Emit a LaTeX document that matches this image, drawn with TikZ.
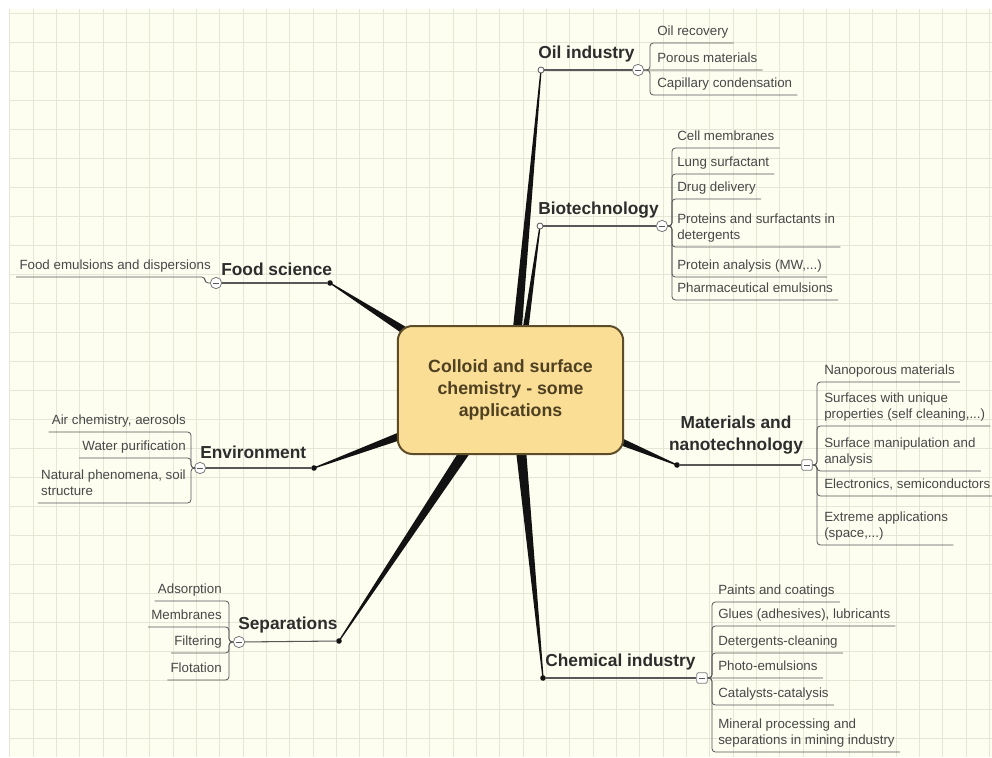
\documentclass[tikz,border=0pt]{standalone}
\usepackage{fontspec}
\setmainfont{Liberation Sans}
\usetikzlibrary{calc}
\definecolor{bgc}{RGB}{253,253,240}
\definecolor{gridc}{RGB}{228,231,214}
\definecolor{boxfill}{RGB}{250,222,150}
\definecolor{boxdraw}{RGB}{92,76,40}
\definecolor{boxtext}{RGB}{78,64,32}
\definecolor{labc}{RGB}{45,45,45}
\definecolor{itemc}{RGB}{72,72,72}
\definecolor{linec}{RGB}{88,88,88}
\definecolor{spokec}{RGB}{18,18,18}
\newcommand{\rchild}[7]{% name, toggle, cy, bx, textx, u, text
  \node[itemL] (#1) at (#5,#6-3.8) {#7};
  \draw[uline] (#2.east) -- (#4,#3) -- (#4,#6) -- ($(#1.south east)+(5,3.8)$);
}
\newcommand{\rchildflat}[5]{% name, toggle, textx, u, text
  \node[itemL] (#1) at (#3,#4-3.8) {#5};
  \draw[uline] (#2.east) -- ($(#1.south east)+(5,3.8)$);
}
\newcommand{\lchild}[7]{% name, toggle, cy, bx, textright, u, text
  \node[itemR] (#1) at (#5,#6-3.8) {#7};
  \draw[uline] (#2.west) -- (#4,#3) -- (#4,#6) -- ($(#1.south west)+(-3,3.8)$);
}
\newcommand{\spoke}[3]{% base, tip, half width
  \fill[spokec] ($(#1)!#3!90:(#2)$) -- ($(#2)!0.45pt!-90:(#1)$) -- ($(#2)!0.45pt!90:(#1)$) -- ($(#1)!#3!-90:(#2)$) -- cycle;
}
\begin{document}
\begin{tikzpicture}[x=0.75pt,y=-0.75pt,
  item/.style={inner sep=0pt, font=\fontsize{10}{12}\selectfont, text=itemc, text depth=2.4pt},
  itemL/.style={item, anchor=south west, align=left},
  itemR/.style={item, anchor=south east, align=right},
  lab/.style={inner sep=0pt, font=\bfseries\fontsize{13}{17}\selectfont, text=labc},
  uline/.style={draw=linec, line width=0.6pt, rounded corners=2.5pt},
  hline/.style={draw=linec, line width=0.8pt},
  minus/.style={path picture={\draw[linec, line width=0.6pt] ([xshift=1.8pt]path picture bounding box.west) -- ([xshift=-1.8pt]path picture bounding box.east);}},
  togc/.style={circle, draw=linec!80, fill=white, line width=0.6pt, minimum size=8.5pt, inner sep=0pt, minus},
  togs/.style={rectangle, rounded corners=1.5pt, draw=linec!80, fill=white, line width=0.6pt, minimum size=8pt, inner sep=0pt, minus},
  dotF/.style={circle, fill=spokec, minimum size=4.2pt, inner sep=0pt},
  dotH/.style={circle, draw=linec, fill=white, line width=0.6pt, minimum size=4.5pt, inner sep=0pt},
  cbox/.style={draw=boxdraw, line width=1.5pt, fill=boxfill, rounded corners=11pt, minimum width=169pt, minimum height=96pt, align=center, text=boxtext, font=\bfseries\fontsize{13.3}{16.5}\selectfont}
]
\useasboundingbox (0,0) rectangle (992,757);
\fill[white] (0,0) rectangle (992,757);
\fill[bgc] (9,9) rectangle (992,757);
\foreach \i in {0,...,42} \draw[gridc, line width=0.6pt] ({9.67+23.33*\i},9) -- ({9.67+23.33*\i},757);
\foreach \j in {0,...,25} \draw[gridc, line width=0.6pt] (9,{13+29*\j}) -- (992,{13+29*\j});

% spoke bases and tips
\coordinate (bOil) at (517,333);
\coordinate (bBio) at (525,333);
\coordinate (bFood) at (410,334);
\coordinate (bEnv) at (403,435);
\coordinate (bSep) at (466,450);
\coordinate (bChem) at (521,450);
\coordinate (bMat) at (617,440);
\coordinate (pOil) at (541,70);
\coordinate (pBio) at (540,226);
\coordinate (pFood) at (330,283);
\coordinate (pEnv) at (314,468);
\coordinate (pSep) at (339,641);
\coordinate (pChem) at (543,678);
\coordinate (pMat) at (677,465);

\spoke{bOil}{pOil}{3.4pt}
\spoke{bBio}{pBio}{2.2pt}
\spoke{bFood}{pFood}{3pt}
\spoke{bEnv}{pEnv}{3pt}
\spoke{bSep}{pSep}{3.8pt}
\spoke{bChem}{pChem}{3.8pt}
\spoke{bMat}{pMat}{2.8pt}

\node[cbox] (ctr) at (510.5,390) {Colloid and surface\\chemistry - some\\applications};

% branch dots
\node[dotH] (dOil) at (pOil) {};
\node[dotH] (dBio) at (pBio) {};
\node[dotF] (dFood) at (pFood) {};
\node[dotF] (dEnv) at (pEnv) {};
\node[dotF] (dSep) at (pSep) {};
\node[dotF] (dChem) at (pChem) {};
\node[dotF] (dMat) at (pMat) {};

% toggles
\node[togc] (tOil) at (638,70) {};
\node[togc] (tBio) at (662,226) {};
\node[togc] (tFood) at (216,283) {};
\node[togc] (tEnv) at (200,468) {};
\node[togc] (tSep) at (239,642) {};
\node[togs] (tMat) at (807,465) {};
\node[togs] (tChem) at (702,678) {};

\draw[hline] (dOil) -- (tOil);
\draw[hline] (dBio) -- (tBio);
\draw[hline] (dFood) -- (tFood);
\draw[hline] (dEnv) -- (tEnv);
\draw[hline] (dSep) -- (tSep);
\draw[hline] (dChem) -- (tChem);
\draw[hline] (dMat) -- (tMat);

% branch labels
\node[lab, anchor=base west] (lOil) at (538,58) {Oil industry};
\node[lab, anchor=base west] (lBio) at (538,214) {Biotechnology};
\node[lab, anchor=base west] (lFood) at (221,275) {Food science};
\node[lab, anchor=base west] (lEnv) at (200,458) {Environment};
\node[lab, anchor=base west] (lSep) at (238,629) {Separations};
\node[lab, anchor=base west] (lChem) at (545,666) {Chemical industry};
\node[lab, align=center] (lMat) at (736,435) {Materials and\\nanotechnology};

% Oil industry
\rchild{o1}{tOil}{70}{650}{657}{43}{Oil recovery}
\rchildflat{o2}{tOil}{657}{70}{Porous materials}
\rchild{o3}{tOil}{70}{650}{657}{95}{Capillary condensation}

% Biotechnology
\rchild{b1}{tBio}{226}{672}{677}{148}{Cell membranes}
\rchild{b2}{tBio}{226}{672}{677}{174}{Lung surfactant}
\rchild{b3}{tBio}{226}{672}{677}{199}{Drug delivery}
\rchild{b4}{tBio}{226}{672}{677}{247}{Proteins and surfactants in\\detergents}
\rchild{b5}{tBio}{226}{672}{677}{277}{Protein analysis (MW,...)}
\rchild{b6}{tBio}{226}{672}{677}{300}{Pharmaceutical emulsions}

% Materials
\rchild{m1}{tMat}{465}{817}{824}{382}{Nanoporous materials}
\rchild{m2}{tMat}{465}{817}{824}{426}{Surfaces with unique\\properties (self cleaning,...)}
\rchild{m3}{tMat}{465}{817}{824}{471}{Surface manipulation and\\analysis}
\rchild{m4}{tMat}{465}{817}{824}{496}{Electronics, semiconductors}
\rchild{m5}{tMat}{465}{817}{824}{545}{Extreme applications\\(space,...)}

% Chemical industry
\rchild{c1}{tChem}{678}{712}{718}{602}{Paints and coatings}
\rchild{c2}{tChem}{678}{712}{718}{626}{Glues (adhesives), lubricants}
\rchild{c3}{tChem}{678}{712}{718}{653}{Detergents-cleaning}
\rchildflat{c4}{tChem}{718}{678}{Photo-emulsions}
\rchild{c5}{tChem}{678}{712}{718}{705}{Catalysts-catalysis}
\rchild{c6}{tChem}{678}{712}{718}{752}{Mineral processing and\\separations in mining industry}

% Food science
\lchild{f1}{tFood}{283}{205}{211}{277}{Food emulsions and dispersions}

% Environment
\lchild{e1}{tEnv}{468}{191}{186}{432}{Air chemistry, aerosols}
\lchild{e2}{tEnv}{468}{191}{186}{458}{Water purification}
\node[item, anchor=south east, align=left] (e3) at (186,503-3.8) {Natural phenomena, soil\\structure};
\draw[uline] (tEnv.west) -- (191,468) -- (191,503) -- ($(e3.south west)+(-3,3.8)$);

% Separations
\lchild{s1}{tSep}{642}{229}{222}{601}{Adsorption}
\lchild{s2}{tSep}{642}{229}{222}{627}{Membranes}
\lchild{s3}{tSep}{642}{229}{222}{653}{Filtering}
\lchild{s4}{tSep}{642}{229}{222}{680}{Flotation}
\end{tikzpicture}
\end{document}
